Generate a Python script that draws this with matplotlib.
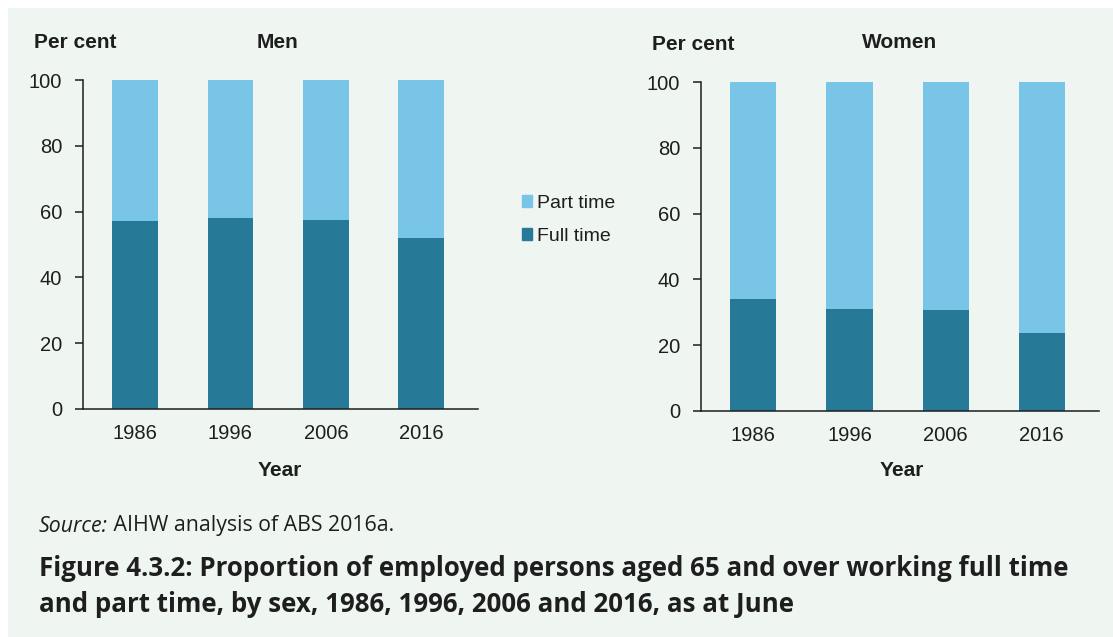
import numpy as np
import matplotlib.pyplot as plt
from matplotlib.patches import Rectangle, Patch

years = ['1986', '1996', '2006', '2016']
men_full = [57.0, 58.0, 57.3, 52.0]
women_full = [34.0, 31.0, 30.6, 23.8]
men_part = [100 - v for v in men_full]
women_part = [100 - v for v in women_full]

light = '#79C5E8'
dark = '#267A97'
bg = '#EFF5F1'
ink = '#1E1E1E'

plt.rcParams['font.family'] = ['Liberation Sans', 'DejaVu Sans']

W, H = 1113, 637
fig = plt.figure(figsize=(W / 100, H / 100), dpi=100)
fig.patch.set_facecolor('white')
fig.patches.append(Rectangle((8 / W, 0), 1, 1 - 8 / H, transform=fig.transFigure,
                             facecolor=bg, edgecolor='none', zorder=-10))


def px(x, y):
    # pixel position (from top left) to figure fraction
    return x / W, 1 - y / H


def panel(left, right, bottom, top, full, part):
    ax = fig.add_axes([left / W, 1 - bottom / H, (right - left) / W, (bottom - top) / H])
    ax.set_facecolor('none')
    x = np.arange(len(years))
    ax.bar(x, full, width=0.48, color=dark)
    ax.bar(x, part, width=0.48, bottom=full, color=light)
    ax.set_xlim(-0.545, 3.595)
    ax.set_ylim(0, 100)
    ax.set_yticks([0, 20, 40, 60, 80, 100])
    ax.set_xticks(x)
    ax.set_xticklabels(years)
    ax.tick_params(axis='y', length=6, width=1.1, labelsize=14.5, pad=9, colors=ink)
    ax.tick_params(axis='x', length=0, labelsize=14.5, pad=11, colors=ink)
    for s in ['top', 'right']:
        ax.spines[s].set_visible(False)
    for s in ['left', 'bottom']:
        ax.spines[s].set_linewidth(1.1)
        ax.spines[s].set_color(ink)
    return ax


ax1 = panel(83, 478, 409, 80, men_full, men_part)
ax2 = panel(701, 1099, 410.7, 82.3, women_full, women_part)

bold = dict(fontsize=15, fontweight='bold', ha='center', va='center', color=ink)
fig.text(*px(75, 42), 'Per cent', **bold)
fig.text(*px(277, 42), 'Men', **bold)
fig.text(*px(280, 470), 'Year', **bold)
fig.text(*px(693, 44), 'Per cent', **bold)
fig.text(*px(900, 43), 'Women', **bold)
fig.text(*px(902, 470), 'Year', **bold)

handles = [Patch(color=light, label='Part time'), Patch(color=dark, label='Full time')]
fig.legend(handles=handles, loc='center left', bbox_to_anchor=px(504, 220),
           frameon=False, fontsize=14, handlelength=0.55, handleheight=0.55,
           handletextpad=0.25, labelspacing=0.8, labelcolor=ink)

src = fig.text(*px(39, 531.5), 'Source:', fontsize=15.3, family='Open Sans',
               style='italic', va='baseline', color=ink)
fig.text(0, 0, ' AIHW analysis of ABS 2016a.', fontsize=15.3, family='Open Sans',
         va='baseline', color=ink)
fig.canvas.draw()
bb = src.get_window_extent()
fig.texts[-1].set_position((bb.x1 / W, 1 - 531.5 / H))

fig.text(*px(39, 576), 'Figure 4.3.2: Proportion of employed persons aged 65 and over working full time',
         fontsize=18.6, family='Open Sans', fontweight='bold', va='baseline', color=ink)
fig.text(*px(39, 612), 'and part time, by sex, 1986, 1996, 2006 and 2016, as at June',
         fontsize=18.6, family='Open Sans', fontweight='bold', va='baseline', color=ink)

fig.savefig('out.png', dpi=100, facecolor=fig.get_facecolor())
